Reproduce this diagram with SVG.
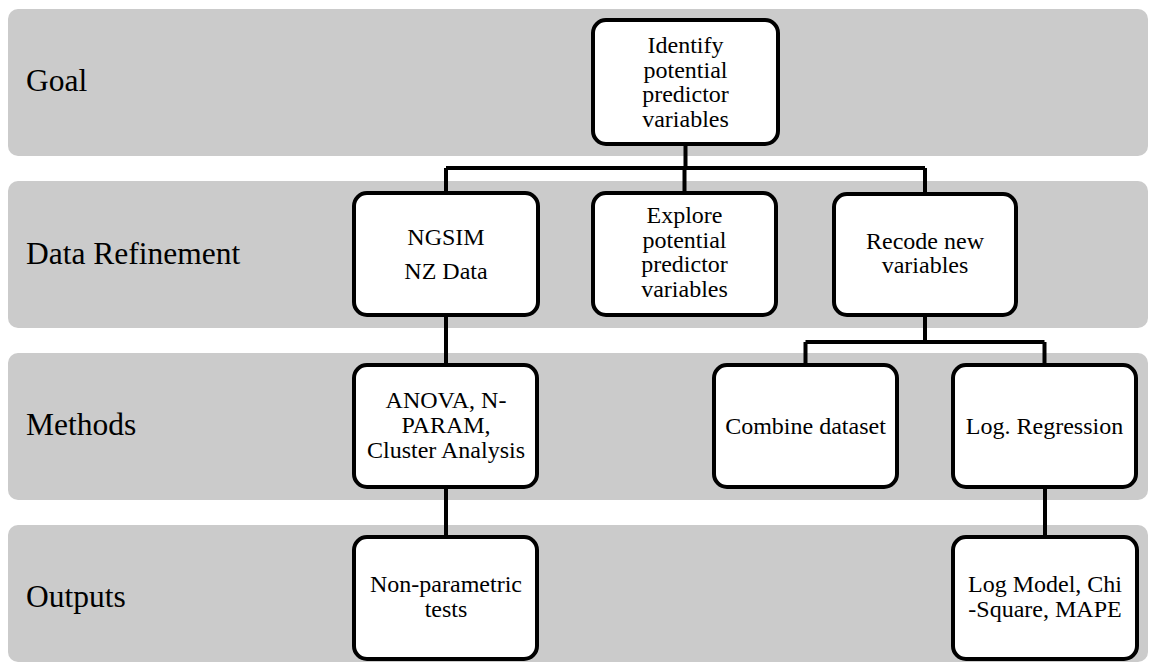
<svg xmlns="http://www.w3.org/2000/svg" width="1150" height="663" viewBox="0 0 1150 663">
<style>
.band{fill:#cbcbcb;}
.lbl{font-family:"Liberation Serif","Times New Roman",serif;font-size:31.5px;fill:#000;}
.box{fill:#fff;stroke:#000;stroke-width:4;}
.txt{font-family:"Liberation Serif","Times New Roman",serif;font-size:24px;fill:#000;text-anchor:middle;}
.con{fill:none;stroke:#000;stroke-width:4;}
</style>
<g id="bands">
<rect class="band" x="8" y="9" width="1140" height="147" rx="10"/>
<rect class="band" x="8" y="181" width="1140" height="147" rx="10"/>
<rect class="band" x="8" y="353" width="1140" height="147" rx="10"/>
<rect class="band" x="8" y="525" width="1140" height="137" rx="10"/>
<text class="lbl" x="26" y="91">Goal</text>
<text class="lbl" x="26" y="264">Data Refinement</text>
<text class="lbl" x="26" y="435">Methods</text>
<text class="lbl" x="26" y="607">Outputs</text>
</g>
<g id="connectors">
<path class="con" d="M685.5 146 V168 M446 168 H925 M446 168 V191 M684.5 168 V191 M925 168 V192"/>
<path class="con" d="M446 317 V363"/>
<path class="con" d="M925 317 V342 M805.5 342 H1044.5 M805.5 342 V363 M1044.5 342 V363"/>
<path class="con" d="M446 489 V535"/>
<path class="con" d="M1045 489 V535"/>
</g>
<g id="goal">
<rect class="box" x="593" y="20" width="185" height="124" rx="13"/>
<text class="txt" x="685.5"><tspan x="685.5" y="53">Identify</tspan><tspan x="685.5" y="77.5">potential</tspan><tspan x="685.5" y="102">predictor</tspan><tspan x="685.5" y="126.5">variables</tspan></text>
</g>
<g id="ngsim">
<rect class="box" x="354" y="193" width="184" height="122" rx="13"/>
<text class="txt"><tspan x="446" y="245">NGSIM</tspan><tspan x="446" y="279">NZ Data</tspan></text>
</g>
<g id="explore">
<rect class="box" x="593" y="193" width="183" height="122" rx="13"/>
<text class="txt"><tspan x="684.5" y="223">Explore</tspan><tspan x="684.5" y="247.5">potential</tspan><tspan x="684.5" y="272">predictor</tspan><tspan x="684.5" y="296.5">variables</tspan></text>
</g>
<g id="recode">
<rect class="box" x="834" y="194" width="182" height="121" rx="13"/>
<text class="txt"><tspan x="925" y="249">Recode new</tspan><tspan x="925" y="273">variables</tspan></text>
</g>
<g id="anova">
<rect class="box" x="354" y="365" width="183" height="122" rx="13"/>
<text class="txt"><tspan x="446" y="408">ANOVA, N-</tspan><tspan x="446" y="433">PARAM,</tspan><tspan x="446" y="458">Cluster Analysis</tspan></text>
</g>
<g id="combine">
<rect class="box" x="714" y="365" width="183" height="122" rx="13"/>
<text class="txt" x="805.5" y="434">Combine dataset</text>
</g>
<g id="logreg">
<rect class="box" x="953" y="365" width="183" height="122" rx="13"/>
<text class="txt" x="1044.5" y="434">Log. Regression</text>
</g>
<g id="nonparam">
<rect class="box" x="354" y="537" width="183" height="122" rx="13"/>
<text class="txt"><tspan x="446" y="592">Non-parametric</tspan><tspan x="446" y="617">tests</tspan></text>
</g>
<g id="logmodel">
<rect class="box" x="953" y="537" width="184" height="122" rx="13"/>
<text class="txt"><tspan x="1045" y="592">Log Model, Chi</tspan><tspan x="1045" y="617">-Square, MAPE</tspan></text>
</g>
</svg>
